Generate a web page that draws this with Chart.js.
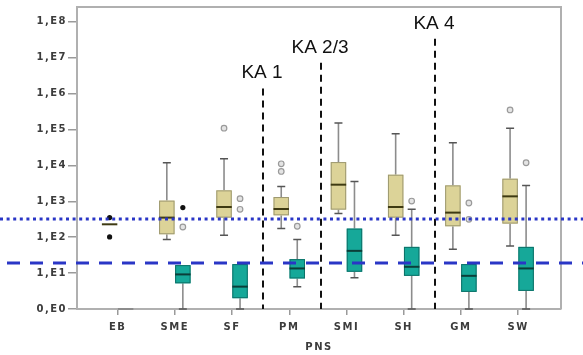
<!DOCTYPE html>
<html><head><meta charset="utf-8">
<script src="https://cdn.jsdelivr.net/npm/chart.js@4/dist/chart.umd.min.js"></script>
<style>html,body{margin:0;padding:0;background:#fff;}#wrap{width:583px;height:355px;}</style>
</head><body><div id="wrap"><canvas id="c" width="583" height="355"></canvas></div>
<script>
// ---- data ----
const categories = ['EB','SME','SF','PM','SMI','SH','GM','SW'];
const yTickValues = [1, 10, 100, 1e3, 1e4, 1e5, 1e6, 1e7, 1e8];

// tan (khaki) series
const tanMin    = [229, 86, 114, 174, 455, 114, 46, 57];
const tanQ1     = [229, 121, 352, 408, 588, 352, 202, 240];
const tanMedian = [229, 352, 695, 611, 2911, 695, 485, 1377];
const tanQ3     = [229, 1047, 2021, 1318, 12400, 5519, 2783, 4272];
const tanMax    = [229, 11900, 15300, 2610, 153000, 76000, 42700, 109000];
const tanOutlierCats   = ['SF', 'PM', 'PM', 'SW'];
const tanOutlierValues = [109000, 11100, 6800, 352000];
const tanExtremeCats   = ['EB', 'EB'];
const tanExtremeValues = [352, 102];

// teal series
const tealMin    = [1, 1, 1, 4.2, 7.4, 1, 1, 1];
const tealQ1     = [1, 5.2, 2.0, 7.1, 10.9, 8.4, 3.0, 3.2];
const tealMedian = [1, 9.2, 4.2, 13.5, 41.7, 15, 8.4, 13.5];
const tealQ3     = [1, 16.7, 17.8, 24.5, 174, 53.8, 17.8, 53.8];
const tealMax    = [1, 16.7, 17.8, 86, 3594, 600, 17.8, 2783];
const tealOutlierCats   = ['SME', 'SF', 'SF', 'PM', 'SH', 'GM', 'GM', 'SW'];
const tealOutlierValues = [193, 1188, 600, 202, 1019, 898, 316, 11900];
const tealExtremeCats   = ['SME'];
const tealExtremeValues = [668];

// annotations
const kaLabels    = ['KA 1', 'KA 2/3', 'KA 4'];
const kaPositions = [2.54, 3.56, 5.55];
const kaTops      = [1.4e6, 7.3e6, 3.4e7];
const dottedLevel = 331;
const dashedLevel = 18.6;

// ---- rendering ----
const TAN_OFF = -0.14, TEAL_OFF = 0.14, HALF_W = 0.135;
const idx = c => categories.indexOf(c);
const pts = (cats, vals, off) => cats.map((c, i) => ({x: idx(c) + off, y: vals[i]}));

function drawBoxes(chart, mins, q1s, meds, q3s, maxs, off, st) {
  const {ctx, scales: {x, y}} = chart;
  categories.forEach((c, i) => {
    const cx = x.getPixelForValue(i + off);
    const l = x.getPixelForValue(i + off - HALF_W), r = x.getPixelForValue(i + off + HALF_W);
    const yMin = y.getPixelForValue(mins[i]), yQ1 = y.getPixelForValue(q1s[i]);
    const yMed = y.getPixelForValue(meds[i]), yQ3 = y.getPixelForValue(q3s[i]);
    const yMax = y.getPixelForValue(maxs[i]);
    ctx.save();
    ctx.strokeStyle = st.whisker; ctx.lineWidth = 1.6;
    ctx.beginPath(); ctx.moveTo(cx, yQ1); ctx.lineTo(cx, yMin); ctx.moveTo(cx, yQ3); ctx.lineTo(cx, yMax); ctx.stroke();
    ctx.strokeStyle = st.cap; ctx.lineWidth = 1.5;
    ctx.beginPath();
    if (maxs[i] > q3s[i]) { ctx.moveTo(cx - 4, yMax); ctx.lineTo(cx + 4, yMax); }
    if (mins[i] < q1s[i]) { ctx.moveTo(cx - 4, yMin); ctx.lineTo(cx + 4, yMin); }
    ctx.stroke();
    if (q3s[i] > q1s[i]) {
      ctx.fillStyle = st.fill; ctx.fillRect(l, yQ3, r - l, yQ1 - yQ3);
      ctx.strokeStyle = st.border; ctx.lineWidth = 1;
      ctx.strokeRect(l + 0.5, yQ3 + 0.5, r - l - 1, yQ1 - yQ3 - 1);
    }
    ctx.strokeStyle = (q3s[i] > q1s[i] || meds[i] > 1) ? st.median : st.whisker; ctx.lineWidth = 2;
    ctx.beginPath(); ctx.moveTo(l, yMed); ctx.lineTo(r, yMed); ctx.stroke();
    ctx.restore();
  });
}

const boxPlugin = {
  id: 'boxes',
  beforeDraw(chart) { chart.ctx.letterSpacing = '1.5px'; },
  beforeDatasetsDraw(chart) {
    drawBoxes(chart, tanMin, tanQ1, tanMedian, tanQ3, tanMax, TAN_OFF,
      {fill: '#dcd398', border: '#9d9870', median: '#3e3a12', whisker: '#8c8c8c', cap: '#555'});
    drawBoxes(chart, tealMin, tealQ1, tealMedian, tealQ3, tealMax, TEAL_OFF,
      {fill: '#16a899', border: '#0d7168', median: '#0b3e39', whisker: '#8c8c8c', cap: '#555'});
  },
  afterDraw(chart) {
    const {ctx, chartArea: a, scales: {x, y}} = chart;
    ctx.save();
    ctx.letterSpacing = '0px';
    // frame top/right
    ctx.strokeStyle = '#b0b0b0'; ctx.lineWidth = 2;
    ctx.beginPath(); ctx.moveTo(a.left, a.top); ctx.lineTo(a.right, a.top); ctx.lineTo(a.right, a.bottom); ctx.stroke();
    // KA vertical dashed lines
    ctx.strokeStyle = '#111'; ctx.lineWidth = 2; ctx.setLineDash([7, 5]);
    kaPositions.forEach((p, i) => {
      const px = Math.round(x.getPixelForValue(p));
      const top = y.getPixelForValue(kaTops[i]);
      ctx.beginPath(); ctx.moveTo(px, top); ctx.lineTo(px, a.bottom); ctx.stroke();
      ctx.fillStyle = '#111'; ctx.font = '19px "Liberation Sans", Arial, sans-serif';
      ctx.textAlign = 'center'; ctx.textBaseline = 'alphabetic';
      ctx.fillText(kaLabels[i], px - 1, top - 10);
    });
    // blue horizontal lines
    ctx.strokeStyle = '#2a36c6'; ctx.lineWidth = 3;
    const yd = Math.round(y.getPixelForValue(dottedLevel));
    ctx.setLineDash([3, 3.6]);
    ctx.beginPath(); ctx.moveTo(0, yd); ctx.lineTo(chart.width, yd); ctx.stroke();
    const yh = Math.round(y.getPixelForValue(dashedLevel));
    ctx.setLineDash([13, 10]);
    ctx.beginPath(); ctx.moveTo(7, yh); ctx.lineTo(chart.width, yh); ctx.stroke();
    ctx.restore();
  }
};

const tickFont = {family: '"DejaVu Sans", Arial, sans-serif', size: 10, weight: 'bold'};

new Chart(document.getElementById('c'), {
  type: 'scatter',
  data: {
    datasets: [
      {data: pts(tanOutlierCats, tanOutlierValues, TAN_OFF), pointRadius: 2.8, borderWidth: 1.2,
       borderColor: '#9a9a9a', backgroundColor: '#e4e4e4'},
      {data: pts(tealOutlierCats, tealOutlierValues, TEAL_OFF), pointRadius: 2.8, borderWidth: 1.2,
       borderColor: '#9a9a9a', backgroundColor: '#e4e4e4'},
      {data: pts(tanExtremeCats, tanExtremeValues, TAN_OFF).concat(pts(tealExtremeCats, tealExtremeValues, TEAL_OFF)),
       pointRadius: 2.6, borderWidth: 0, backgroundColor: '#111'}
    ]
  },
  options: {
    responsive: false, animation: false, devicePixelRatio: 1,
    layout: {padding: {left: 0, top: 6, right: 22, bottom: 0}},
    plugins: {legend: {display: false}, tooltip: {enabled: false}},
    scales: {
      x: {
        type: 'linear', min: -0.71, max: 7.75,
        afterBuildTicks: s => { s.ticks = categories.map((c, i) => ({value: i})); },
        afterFit: s => { s.height = 46; },
        ticks: {autoSkip: false, maxRotation: 0, padding: 6, color: '#3c3c3c', font: tickFont,
                callback: v => categories[v]},
        grid: {drawOnChartArea: false, tickLength: 6, color: '#9a9a9a', lineWidth: 1.5},
        border: {color: '#b0b0b0', width: 2},
        title: {display: true, text: 'PNS', color: '#3c3c3c', font: tickFont, padding: {top: 0, bottom: 2}}
      },
      y: {
        type: 'logarithmic', min: 1, max: 2.6e8,
        afterBuildTicks: s => { s.ticks = yTickValues.map(v => ({value: v})); },
        afterFit: s => { s.width = 77; },
        ticks: {padding: 1, color: '#3c3c3c', font: tickFont,
                callback: v => v === 1 ? '0,E0' : '1,E' + Math.round(Math.log10(v))},
        grid: {drawOnChartArea: false, tickLength: 9, color: '#9a9a9a', lineWidth: 1.5},
        border: {color: '#b0b0b0', width: 2}
      }
    }
  },
  plugins: [boxPlugin]
});
</script></body></html>
